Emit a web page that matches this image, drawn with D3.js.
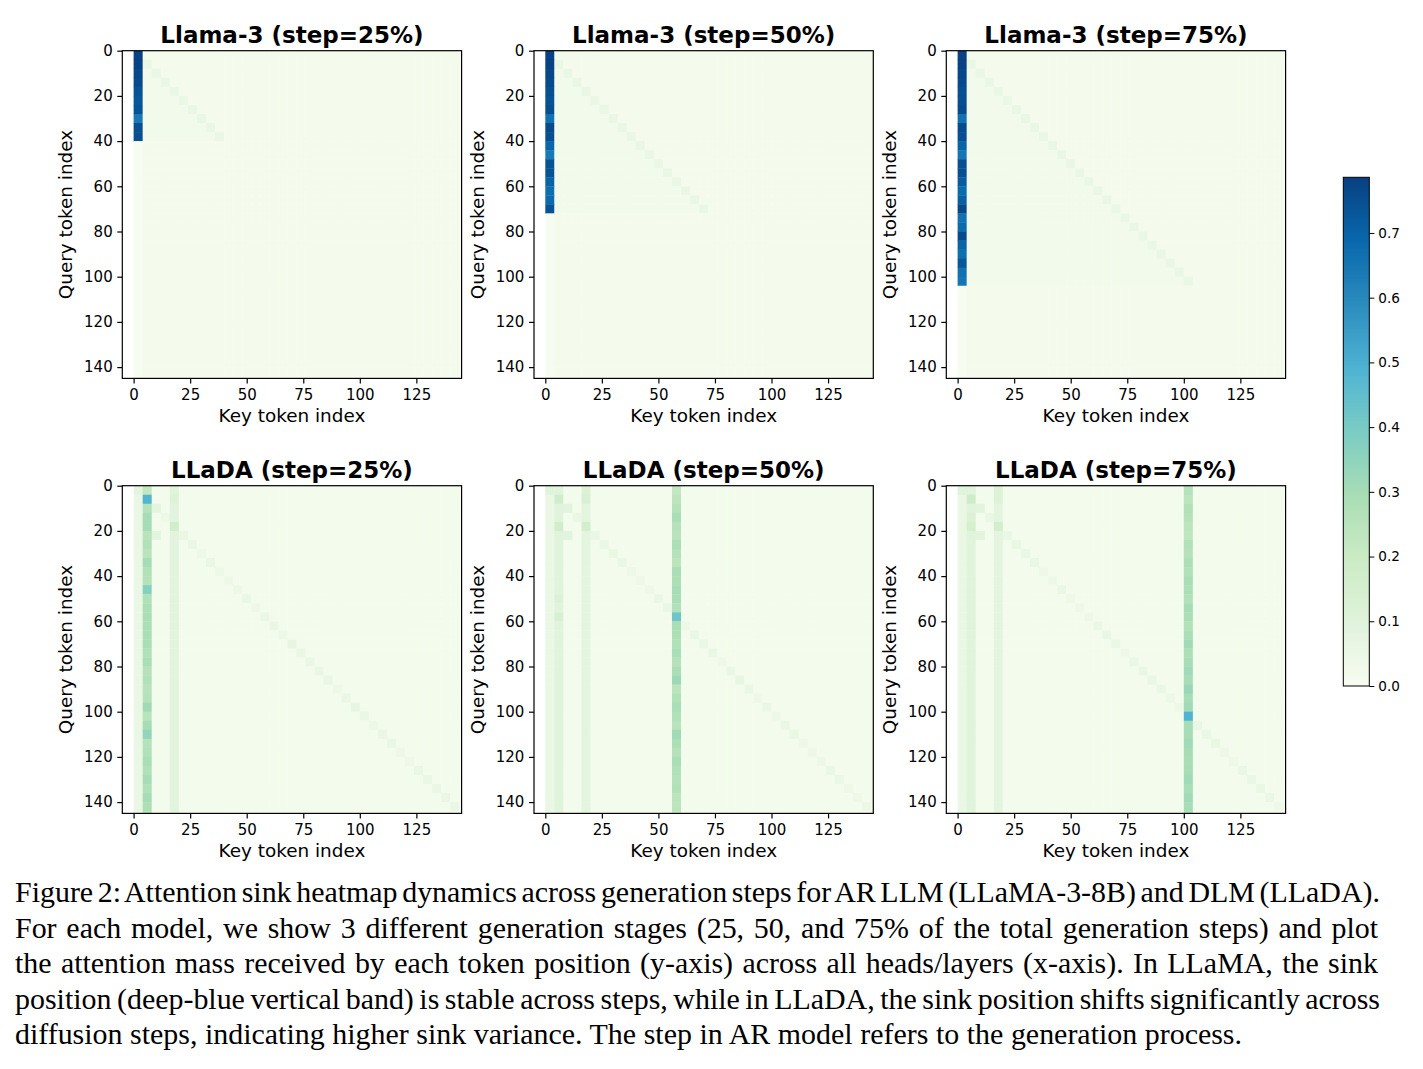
<!DOCTYPE html>
<html><head><meta charset="utf-8">
<script src="https://cdn.jsdelivr.net/npm/d3@7"></script>
<style>body{margin:0;background:#fff}svg{display:block}</style>
</head><body><svg id="c" width="1423" height="1069"></svg>
<script>
// ---------------- data ----------------
const panelTitles = [
  ["Llama-3 (step=25%)", "Llama-3 (step=50%)", "Llama-3 (step=75%)"],
  ["LLaDA (step=25%)", "LLaDA (step=50%)", "LLaDA (step=75%)"]
];
const xTicks = [0, 25, 50, 75, 100, 125];
const yTicks = [0, 20, 40, 60, 80, 100, 120, 140];
const cbTicks = [0.0, 0.1, 0.2, 0.3, 0.4, 0.5, 0.6, 0.7];
const blockSize = 4, nBlocks = 37, tokenMax = 145, xMin = -5, vmax = 0.786;

// Llama-3: attention on key block 0 (sink), one value per query block up to generation frontier
const llamaSink25 = [0.78,0.78,0.77,0.76,0.74,0.73,0.74,0.64,0.75,0.75];
const llamaSink50 = [0.78,0.78,0.77,0.76,0.75,0.74,0.75,0.66,0.76,0.75,0.69,0.64,0.74,0.74,0.70,0.67,0.68,0.74];
const llamaSink75 = [0.78,0.78,0.77,0.76,0.75,0.75,0.76,0.66,0.76,0.75,0.70,0.65,0.75,0.75,0.72,0.68,0.71,0.77,0.66,0.68,0.76,0.70,0.67,0.73,0.66,0.65];
const llamaDiag = 0.05, llamaLower = 0.02, llamaBackground = 0.012, llamaMasked = 0.004;

// LLaDA: sink column block index and its values per query block
const lladaSinkCols = [1, 14, 25];
const lladaSink25 = [0.22,0.48,0.26,0.30,0.30,0.25,0.27,0.25,0.30,0.27,0.26,0.37,0.27,0.28,0.29,0.28,0.29,0.29,0.27,0.29,0.26,0.27,0.25,0.26,0.31,0.25,0.30,0.34,0.26,0.27,0.29,0.27,0.30,0.27,0.30,0.28,0.25];
const lladaSink50 = [0.22,0.24,0.26,0.29,0.26,0.25,0.28,0.26,0.24,0.29,0.28,0.30,0.29,0.27,0.42,0.29,0.28,0.27,0.29,0.26,0.29,0.32,0.24,0.27,0.29,0.27,0.25,0.31,0.28,0.26,0.29,0.27,0.26,0.27,0.24,0.24,0.22];
const lladaSink75 = [0.26,0.24,0.27,0.26,0.24,0.23,0.27,0.26,0.28,0.27,0.29,0.28,0.27,0.30,0.29,0.27,0.29,0.31,0.28,0.30,0.31,0.30,0.33,0.30,0.31,0.49,0.30,0.30,0.31,0.30,0.29,0.30,0.31,0.29,0.31,0.30,0.29];
// LLaDA diagonal blocks (query block r, key block r)
const lladaDiag25 = [0.05,0.05,0.08,0.04,0.05,0.06,0.05,0.04,0.05,0.04,0.04,0.04,0.05,0.04,0.05,0.05,0.04,0.07,0.06,0.05,0.05,0.05,0.04,0.05,0.07,0.05,0.04,0.06,0.05,0.04,0.04,0.06,0.05,0.05,0.05,0.05,0.05];
const lladaDiag50 = [0.05,0.05,0.08,0.05,0.05,0.05,0.05,0.06,0.05,0.04,0.04,0.04,0.05,0.05,0.42,0.04,0.05,0.05,0.05,0.04,0.05,0.07,0.05,0.04,0.05,0.04,0.05,0.06,0.04,0.04,0.04,0.05,0.05,0.04,0.04,0.04,0.04];
const lladaDiag75 = [0.05,0.05,0.08,0.04,0.05,0.05,0.06,0.05,0.05,0.04,0.04,0.05,0.04,0.04,0.04,0.05,0.05,0.05,0.04,0.05,0.05,0.05,0.05,0.04,0.04,0.49,0.05,0.05,0.06,0.04,0.04,0.05,0.05,0.06,0.05,0.04,0.05];
// LLaDA secondary bands: [key block, base value, [[query block, value], ...]]
const lladaBands25 = [[0, 0.05, [[0,0.08]]], [4, 0.09, [[0,0.10],[1,0.11],[4,0.17]]], [2, 0.015, [[2,0.08],[5,0.08]]]];
const lladaBands50 = [[0, 0.05, [[0,0.10]]], [1, 0.10, [[1,0.17],[4,0.17],[12,0.12],[14,0.14]]], [4, 0.08, [[0,0.12],[1,0.13],[4,0.16]]], [2, 0.015, [[2,0.09],[5,0.09]]]];
const lladaBands75 = [[0, 0.05, [[0,0.10]]], [1, 0.10, [[1,0.18],[3,0.12],[4,0.15]]], [4, 0.08, [[0,0.11],[1,0.11],[4,0.16]]], [2, 0.015, [[2,0.09],[5,0.09]]], [3, 0.015, [[3,0.05]]]];
const lladaBackground = 0.015;

const captionLines = [
  "Figure 2: Attention sink heatmap dynamics across generation steps for AR LLM (LLaMA-3-8B) and DLM (LLaDA).",
  "For each model, we show 3 different generation stages (25, 50, and 75% of the total generation steps) and plot",
  "the attention mass received by each token position (y-axis) across all heads/layers (x-axis). In LLaMA, the sink",
  "position (deep-blue vertical band) is stable across steps, while in LLaDA, the sink position shifts significantly across",
  "diffusion steps, indicating higher sink variance. The step in AR model refers to the generation process."
];
const captionLineEnds = [1380, 1378, 1378, 1380, 1242];

// ---------------- build matrices ----------------
function buildLlama(sink) {
  const M = d3.range(nBlocks).map(() => new Array(nBlocks).fill(llamaBackground));
  const end = sink.length;
  for (let r = 0; r < nBlocks; r++) {
    if (r < end) {
      for (let c = 1; c < r; c++) M[r][c] = llamaLower;
      if (r > 0) M[r][r] = llamaDiag;
      M[r][0] = sink[r];
    } else M[r][0] = llamaMasked;
  }
  return M;
}
function buildLlada(sinkCol, sink, diag, bands) {
  const M = d3.range(nBlocks).map(() => new Array(nBlocks).fill(lladaBackground));
  bands.forEach(([col, base, cells]) => {
    for (let r = 0; r < nBlocks; r++) M[r][col] = Math.max(M[r][col], base);
    cells.forEach(([r, v]) => { M[r][col] = v; });
  });
  for (let r = 0; r < nBlocks; r++) M[r][r] = Math.max(M[r][r], diag[r]);
  for (let r = 0; r < nBlocks; r++) M[r][sinkCol] = sink[r];
  return M;
}
const matrices = [
  [buildLlama(llamaSink25), buildLlama(llamaSink50), buildLlama(llamaSink75)],
  [buildLlada(lladaSinkCols[0], lladaSink25, lladaDiag25, lladaBands25),
   buildLlada(lladaSinkCols[1], lladaSink50, lladaDiag50, lladaBands50),
   buildLlada(lladaSinkCols[2], lladaSink75, lladaDiag75, lladaBands75)]
];

// ---------------- layout ----------------
const colLefts = [122.3, 534, 946.3], rowTops = [50.7, 485.7];
const axW = 339.3, axH = 327.7;
const FONT = "'DejaVu Sans', sans-serif";
const svg = d3.select("#c");
svg.append("rect").attr("width", 1423).attr("height", 1069).attr("fill", "#fff");

const gnbu = d3.schemeGnBu[9];
const color = d3.scaleLinear().domain(gnbu.map((_, i) => i / 8 * vmax)).range(gnbu).clamp(true);

function drawPanel(g, M, title, id) {
  const x = d3.scaleLinear().domain([xMin, tokenMax]).range([0, axW]);
  const y = d3.scaleLinear().domain([0, tokenMax]).range([0, axH]);
  svg.append("defs").append("clipPath").attr("id", id)
    .append("rect").attr("width", axW).attr("height", axH);
  const cells = [];
  M.forEach((row, r) => row.forEach((v, c) => cells.push({ r, c, v })));
  g.append("g").attr("clip-path", `url(#${id})`)
    .selectAll("rect").data(cells).join("rect")
    .attr("x", d => x(d.c * blockSize))
    .attr("y", d => y(d.r * blockSize))
    .attr("width", x(blockSize) - x(0) + 0.35)
    .attr("height", y(blockSize) - y(0) + 0.35)
    .attr("fill", d => color(d.v));
  g.append("rect").attr("width", axW).attr("height", axH)
    .attr("fill", "none").attr("stroke", "#000").attr("stroke-width", 1.2);

  const xa = g.append("g").attr("transform", `translate(0,${axH})`)
    .call(d3.axisBottom(x).tickValues(xTicks).tickSize(5).tickPadding(6));
  const ya = g.append("g")
    .call(d3.axisLeft(y).tickValues(yTicks).tickSize(5).tickPadding(4.6));
  [xa, ya].forEach(a => {
    a.select(".domain").remove();
    a.selectAll("line").attr("stroke", "#000").attr("stroke-width", 1.2);
    a.selectAll("text").attr("font-family", FONT).attr("font-size", 15).attr("fill", "#000");
  });

  g.append("text").attr("x", axW / 2).attr("y", -7.5).attr("text-anchor", "middle")
    .attr("font-family", FONT).attr("font-weight", "bold").attr("font-size", 23).text(title);
  g.append("text").attr("x", axW / 2).attr("y", axH + 43.7).attr("text-anchor", "middle")
    .attr("font-family", FONT).attr("font-size", 18.4).text("Key token index");
  g.append("text").attr("transform", `translate(-50.3,${axH / 2}) rotate(-90)`)
    .attr("text-anchor", "middle").attr("font-family", FONT).attr("font-size", 18.4)
    .text("Query token index");
}

rowTops.forEach((top, i) => colLefts.forEach((left, j) => {
  const g = svg.append("g").attr("transform", `translate(${left},${top})`);
  drawPanel(g, matrices[i][j], panelTitles[i][j], `clip${i}${j}`);
}));

// ---------------- colorbar ----------------
const cbX = 1343.3, cbW = 26, cbTop = 177.3, cbBottom = 686;
const grad = svg.append("defs").append("linearGradient").attr("id", "cbgrad")
  .attr("x1", 0).attr("y1", 1).attr("x2", 0).attr("y2", 0);
gnbu.forEach((c, i) => grad.append("stop").attr("offset", i / 8).attr("stop-color", c));
svg.append("rect").attr("x", cbX).attr("y", cbTop).attr("width", cbW).attr("height", cbBottom - cbTop)
  .attr("fill", "url(#cbgrad)").attr("stroke", "#000").attr("stroke-width", 1);
const cbScale = d3.scaleLinear().domain([0, vmax]).range([cbBottom, cbTop]);
const cba = svg.append("g").attr("transform", `translate(${cbX + cbW},0)`)
  .call(d3.axisRight(cbScale).tickValues(cbTicks).tickFormat(d3.format(".1f")).tickSize(5).tickPadding(4));
cba.select(".domain").remove();
cba.selectAll("line").attr("stroke", "#000").attr("stroke-width", 1);
cba.selectAll("text").attr("font-family", FONT).attr("font-size", 13.6).attr("fill", "#000");

// ---------------- caption ----------------
const capLeft = 15;
const capBase = [902, 937.5, 973, 1008.5, 1044];
const SERIF = "'Liberation Serif', 'Times New Roman', serif";
// choose the font size so the summed natural widths match the summed line widths
let natTotal = 0, targetTotal = 0;
captionLines.forEach((line, i) => {
  const p = svg.append("text").attr("font-family", SERIF).attr("font-size", 100).text(line);
  natTotal += p.node().getComputedTextLength();
  targetTotal += captionLineEnds[i] - capLeft;
  p.remove();
});
const fs = 100 * targetTotal / natTotal;
captionLines.forEach((line, i) => {
  const t = svg.append("text").attr("x", capLeft).attr("y", capBase[i])
    .attr("font-family", SERIF).attr("font-size", fs).attr("fill", "#000").text(line);
  const w = t.node().getComputedTextLength();
  const spaces = line.split(" ").length - 1;
  t.attr("word-spacing", (captionLineEnds[i] - capLeft - w) / spaces);
});
</script>
</body></html>
